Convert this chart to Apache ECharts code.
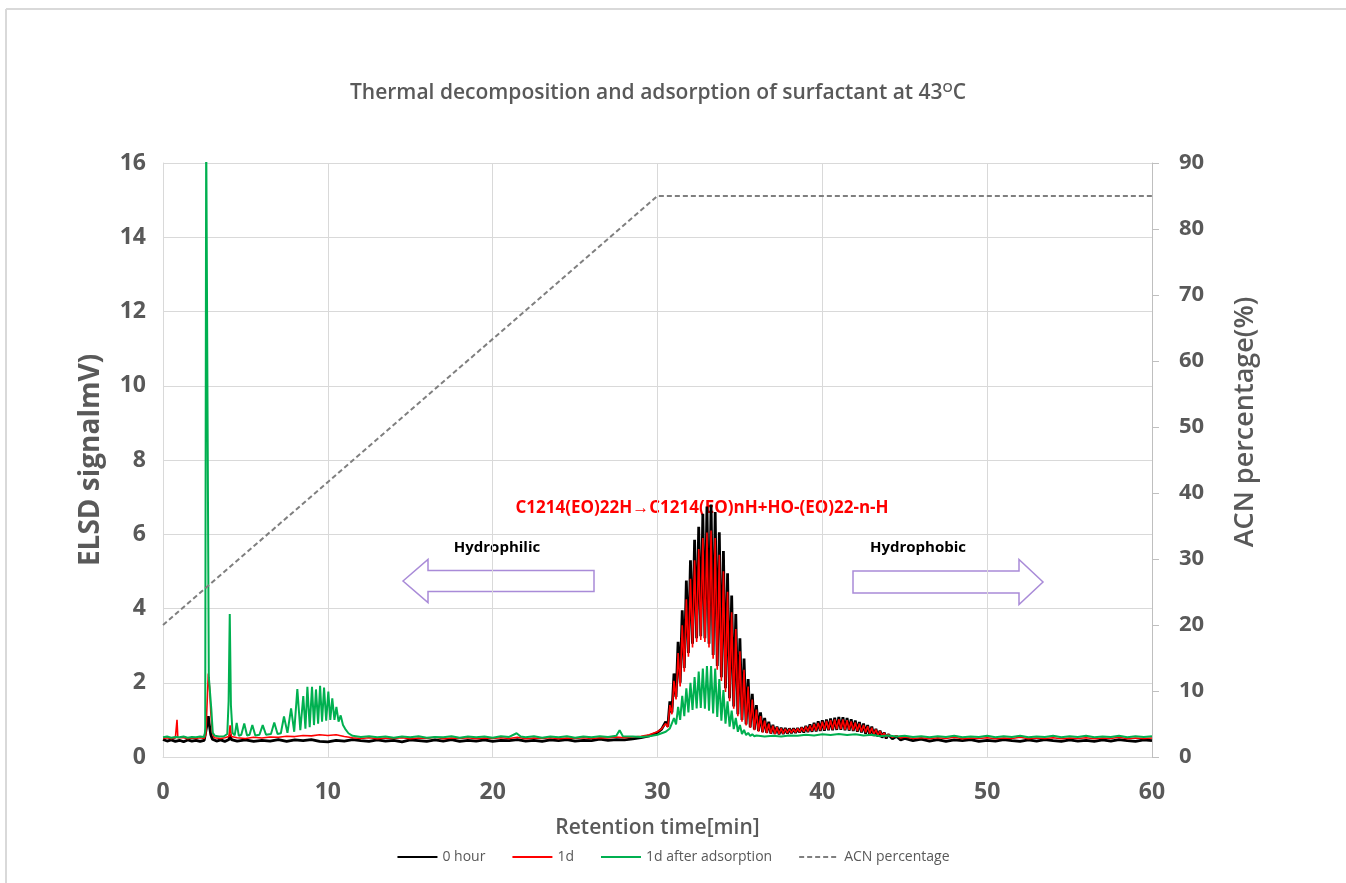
<!DOCTYPE html>
<html>
<head>
<meta charset="utf-8">
<script src="https://cdn.jsdelivr.net/npm/echarts@6/dist/echarts.min.js"></script>
<style>
html,body{margin:0;padding:0;background:#fff;}
#chart{width:1346px;height:883px;}
</style>
</head>
<body>
<div id="chart"></div>
<script>
// ---------- data (retention time [min], ELSD signal [mV]) ----------
const xTicks = [0, 10, 20, 30, 40, 50, 60];
const seriesNames = ['0 hour', '1d', '1d after adsorption', 'ACN percentage'];

const hour0 = [
[0,0.47],[0.25,0.43],[0.5,0.46],[0.75,0.42],[1,0.45],[1.25,0.41],[1.5,0.46],[1.75,0.43],[2,0.45],[2.25,0.42],[2.5,0.45],
[2.6,0.5],[2.7,0.95],[2.75,1.1],[2.8,0.9],[2.9,0.6],[3,0.48],[3.25,0.43],[3.5,0.46],[3.75,0.42],[4,0.47],[4.07,0.6],[4.15,0.47],[4.5,0.43],
[5,0.46],[5.5,0.42],[6,0.45],[6.5,0.43],[7,0.47],[7.5,0.42],[8,0.46],[8.5,0.44],[9,0.47],[9.5,0.42],[10,0.41],[10.5,0.45],[11,0.43],[11.5,0.47],
[12,0.44],[12.5,0.42],[13,0.46],[13.5,0.43],[14,0.45],[14.5,0.41],[15,0.46],[15.5,0.44],[16,0.42],[16.5,0.46],[17,0.43],[17.5,0.47],[18,0.42],
[18.5,0.45],[19,0.43],[19.5,0.46],[20,0.42],[20.5,0.45],[21,0.44],[21.5,0.47],[22,0.43],[22.5,0.45],[23,0.42],[23.5,0.46],[24,0.44],[24.5,0.47],
[25,0.43],[25.5,0.45],[26,0.44],[26.5,0.48],[27,0.45],[27.5,0.47],[28,0.46],[28.5,0.49],[29,0.52],[29.5,0.57],[30,0.66],[30.25,0.75],
[30.5,0.95],[30.625,0.82],[30.75,1.5],[30.875,1.2],[31,2.25],[31.125,1.62],[31.25,3.1],[31.375,2.0],[31.5,3.95],[31.625,2.4],[31.75,4.75],[31.875,2.8],
[32,5.3],[32.125,3.05],[32.25,5.85],[32.375,3.2],[32.5,6.2],[32.625,3.25],[32.75,6.55],[32.875,3.2],[33,6.75],[33.125,3.05],[33.25,6.8],[33.375,2.75],
[33.5,6.6],[33.625,2.45],[33.75,6.05],[33.875,2.15],[34,5.55],[34.125,1.85],[34.25,4.95],[34.375,1.58],[34.5,4.35],[34.625,1.36],[34.75,3.85],[34.875,1.15],
[35,3.2],[35.125,1.0],[35.25,2.65],[35.375,0.88],[35.5,2.1],[35.625,0.8],[35.75,1.7],[35.875,0.74],[36,1.4],[36.125,0.7],[36.25,1.2],[36.375,0.67],
[36.5,1.05],[36.625,0.65],[36.75,0.95],[36.875,0.63],[37,0.87],[37.125,0.62],[37.25,0.82],[37.375,0.61],[37.5,0.79],[37.625,0.62],[37.75,0.78],[37.875,0.63],
[38,0.77],[38.125,0.64],[38.25,0.77],[38.375,0.65],
[38.5,0.78],[38.625,0.66],[38.75,0.8],[38.875,0.66],[39,0.84],[39.125,0.67],[39.25,0.88],[39.375,0.68],[39.5,0.92],[39.625,0.69],[39.75,0.96],[39.875,0.7],
[40,0.99],[40.125,0.71],[40.25,1.01],[40.375,0.72],[40.5,1.04],[40.625,0.72],[40.75,1.06],[40.875,0.73],[41,1.08],[41.125,0.73],[41.25,1.07],[41.375,0.72],
[41.5,1.05],[41.625,0.71],[41.75,1.02],[41.875,0.7],[42,0.98],[42.125,0.68],[42.25,0.94],[42.375,0.66],[42.5,0.9],[42.625,0.63],[42.75,0.86],[42.875,0.6],
[43,0.82],[43.125,0.57],[43.25,0.76],[43.375,0.55],[43.5,0.71],[43.625,0.52],[43.75,0.66],[43.875,0.5],[44,0.61],[44.25,0.49],[44.5,0.56],[44.75,0.46],[45,0.5],
[45.5,0.44],[46,0.48],[46.5,0.43],[47,0.47],[47.5,0.42],[48,0.46],[48.5,0.44],[49,0.47],[49.5,0.42],[50,0.45],[50.5,0.43],[51,0.47],[51.5,0.44],
[52,0.42],[52.5,0.46],[53,0.43],[53.5,0.47],[54,0.44],[54.5,0.42],[55,0.46],[55.5,0.43],[56,0.45],[56.5,0.42],[57,0.46],[57.5,0.43],[58,0.47],
[58.5,0.44],[59,0.42],[59.5,0.46],[60,0.44]
];

const day1 = [
[0,0.5],[0.25,0.52],[0.5,0.49],[0.75,0.51],[0.82,0.55],[0.85,1.0],[0.9,0.52],[1,0.5],[1.25,0.52],[1.5,0.49],[1.75,0.51],[2,0.5],[2.25,0.52],[2.5,0.5],
[2.6,0.6],[2.68,1.5],[2.75,2.25],[2.82,1.9],[2.9,1.2],[3,0.65],[3.1,0.52],[3.5,0.5],[3.75,0.52],[4,0.55],[4.07,0.85],[4.15,0.55],[4.5,0.52],
[5,0.5],[5.5,0.53],[6,0.51],[6.5,0.54],[7,0.53],[7.5,0.56],[8,0.55],[8.5,0.58],[9,0.57],[9.5,0.6],[10,0.58],[10.5,0.6],[11,0.55],[11.5,0.52],
[12,0.5],[12.5,0.52],[13,0.49],[13.5,0.51],[14,0.5],[14.5,0.52],[15,0.49],[15.5,0.51],[16,0.5],[16.5,0.53],[17,0.49],[17.5,0.51],[18,0.5],
[18.5,0.52],[19,0.49],[19.5,0.51],[20,0.5],[20.5,0.52],[21,0.5],[21.5,0.53],[22,0.49],[22.5,0.51],[23,0.5],[23.5,0.52],[24,0.49],[24.5,0.51],
[25,0.5],[25.5,0.52],[26,0.5],[26.5,0.52],[27,0.51],[27.5,0.54],[28,0.52],[28.5,0.54],[29,0.56],[29.5,0.6],[30,0.68],[30.25,0.76],
[30.5,0.9],[30.625,0.8],[30.75,1.4],[30.875,1.15],[31,2.05],[31.125,1.55],[31.25,2.8],[31.375,1.9],[31.5,3.55],[31.625,2.3],[31.75,4.25],[31.875,2.7],
[32,4.8],[32.125,2.95],[32.25,5.3],[32.375,3.1],[32.5,5.6],[32.625,3.15],[32.75,5.9],[32.875,3.1],[33,6.05],[33.125,2.95],[33.25,6.1],[33.375,2.65],
[33.5,5.9],[33.625,2.35],[33.75,5.45],[33.875,2.05],[34,5.0],[34.125,1.75],[34.25,4.45],[34.375,1.5],[34.5,3.9],[34.625,1.3],[34.75,3.45],[34.875,1.1],
[35,2.85],[35.125,0.95],[35.25,2.35],[35.375,0.85],[35.5,1.9],[35.625,0.78],[35.75,1.55],[35.875,0.72],[36,1.28],[36.125,0.68],[36.25,1.1],[36.375,0.66],
[36.5,0.98],[36.625,0.64],[36.75,0.9],[36.875,0.63],[37,0.84],[37.125,0.62],[37.25,0.8],[37.375,0.62],[37.5,0.77],[37.625,0.63],[37.75,0.76],[37.875,0.64],
[38,0.76],[38.125,0.65],[38.25,0.76],[38.375,0.66],
[38.5,0.77],[38.625,0.67],[38.75,0.79],[38.875,0.68],[39,0.82],[39.125,0.69],[39.25,0.85],[39.375,0.7],[39.5,0.89],[39.625,0.71],[39.75,0.92],[39.875,0.72],
[40,0.95],[40.125,0.73],[40.25,0.97],[40.375,0.74],[40.5,0.99],[40.625,0.74],[40.75,1.01],[40.875,0.75],[41,1.02],[41.125,0.75],[41.25,1.01],[41.375,0.74],
[41.5,0.99],[41.625,0.73],[41.75,0.96],[41.875,0.72],[42,0.93],[42.125,0.7],[42.25,0.9],[42.375,0.68],[42.5,0.86],[42.625,0.66],[42.75,0.83],[42.875,0.63],
[43,0.79],[43.125,0.6],[43.25,0.74],[43.375,0.58],[43.5,0.7],[43.625,0.56],[43.75,0.65],[43.875,0.54],[44,0.61],[44.25,0.53],[44.5,0.57],[44.75,0.51],[45,0.54],
[45.5,0.5],[46,0.52],[46.5,0.49],[47,0.52],[47.5,0.5],[48,0.53],[48.5,0.49],[49,0.51],[49.5,0.5],[50,0.52],[50.5,0.49],[51,0.51],[51.5,0.5],
[52,0.53],[52.5,0.49],[53,0.51],[53.5,0.5],[54,0.52],[54.5,0.49],[55,0.51],[55.5,0.5],[56,0.52],[56.5,0.49],[57,0.51],[57.5,0.5],[58,0.53],
[58.5,0.49],[59,0.51],[59.5,0.5],[60,0.51]
];

const day1Ads = [
[0,0.53],[0.25,0.55],[0.5,0.52],[0.75,0.54],[1,0.53],[1.25,0.55],[1.5,0.52],[1.75,0.54],[2,0.53],[2.25,0.55],[2.5,0.54],
[2.56,0.7],[2.62,17],[2.72,17],[2.78,2.15],[2.86,2.1],[2.93,1.3],[3.02,0.65],[3.15,0.57],[3.4,0.55],[3.7,0.56],[3.9,0.62],[3.98,1.5],[4.05,3.85],[4.12,1.4],
[4.22,0.65],[4.35,0.58],[4.47,0.92],[4.6,0.57],[4.75,0.6],[4.93,0.9],[5.1,0.58],[5.25,0.6],[5.42,0.86],[5.6,0.58],[5.85,0.6],[6.05,0.86],[6.25,0.6],
[6.55,0.62],[6.75,0.93],[6.95,0.62],[7.15,0.64],[7.34,1.09],[7.55,0.65],[7.77,1.31],[7.96,0.68],[8.15,1.83],[8.33,0.72],[8.51,1.64],[8.64,0.76],
[8.76,1.89],[8.9,0.8],[9.04,1.89],[9.16,0.86],[9.28,1.82],[9.41,0.9],[9.53,1.92],[9.65,0.95],[9.77,1.87],[9.9,0.98],[10.03,1.76],[10.15,1.0],
[10.27,1.58],[10.4,1.0],[10.52,1.35],[10.65,0.95],[10.78,1.12],[10.92,0.86],[11.05,0.76],[11.25,0.64],[11.5,0.57],
[12,0.54],[12.5,0.56],[13,0.53],[13.5,0.55],[14,0.52],[14.5,0.55],[15,0.53],[15.5,0.56],[16,0.52],[16.5,0.54],[17,0.53],[17.5,0.56],[18,0.52],
[18.5,0.55],[19,0.53],[19.5,0.55],[20,0.52],[20.5,0.56],[21,0.54],[21.45,0.64],[21.7,0.55],[22,0.53],[22.5,0.56],[23,0.52],[23.5,0.55],[24,0.53],
[24.5,0.56],[25,0.52],[25.5,0.55],[26,0.53],[26.5,0.56],[27,0.54],[27.5,0.57],[27.7,0.72],[27.9,0.56],[28.5,0.55],[29,0.54],[29.5,0.56],[30,0.6],
[30.5,0.68],[30.75,0.77],
[31,1.05],[31.125,0.88],[31.25,1.35],[31.375,1.0],[31.5,1.65],[31.625,1.1],[31.75,1.85],[31.875,1.2],[32,2.0],[32.125,1.27],[32.25,2.15],[32.375,1.31],
[32.5,2.3],[32.625,1.32],[32.75,2.38],[32.875,1.3],[33,2.45],[33.125,1.25],[33.25,2.45],[33.375,1.17],[33.5,2.38],[33.625,1.08],[33.75,2.1],[33.875,0.98],
[34,1.8],[34.125,0.9],[34.25,1.5],[34.375,0.82],[34.5,1.25],[34.625,0.75],[34.75,1.05],[34.875,0.68],[35,0.86],[35.125,0.62],[35.25,0.73],[35.375,0.59],
[35.5,0.65],[35.625,0.57],[35.75,0.61],[35.875,0.56],[36,0.58],
[36.5,0.55],[37,0.57],[37.5,0.55],[38,0.58],[38.5,0.57],[39,0.6],[39.5,0.58],[40,0.61],[40.5,0.59],[41,0.62],[41.5,0.59],[42,0.61],[42.5,0.58],
[43,0.6],[43.5,0.56],[44,0.58],[44.5,0.55],[45,0.57],[45.5,0.54],[46,0.56],[46.5,0.53],[47,0.56],[47.5,0.54],[48,0.57],[48.5,0.53],[49,0.55],
[49.5,0.54],[50,0.57],[50.5,0.53],[51,0.56],[51.5,0.54],[52,0.57],[52.5,0.53],[53,0.55],[53.5,0.54],[54,0.57],[54.5,0.53],[55,0.56],[55.5,0.54],
[56,0.57],[56.5,0.53],[57,0.55],[57.5,0.54],[58,0.57],[58.5,0.53],[59,0.56],[59.5,0.54],[60,0.56]
];

const acnTime = [0, 30, 60];
const acnPercent = [20, 85, 85];

// ---------- chart ----------
const chart = echarts.init(document.getElementById('chart'));
const FONT = '"Open Sans", "Noto Sans", sans-serif';
const GRAY = '#595959';

function arrowLeft(x0, x1, yc, hb, hh, headLen) {
  return [[x0, yc], [x0 + headLen, yc - hh], [x0 + headLen, yc - hb], [x1, yc - hb],
          [x1, yc + hb], [x0 + headLen, yc + hb], [x0 + headLen, yc + hh]];
}
function arrowRight(x0, x1, yc, hb, hh, headLen) {
  return [[x0, yc - hb], [x1 - headLen, yc - hb], [x1 - headLen, yc - hh], [x1, yc],
          [x1 - headLen, yc + hh], [x1 - headLen, yc + hb], [x0, yc + hb]];
}

const option = {
  backgroundColor: '#fff',
  animation: false,
  title: {
    text: '{a|Thermal decomposition and adsorption of surfactant at 43}{s|O}{a|C}',
    left: 345,
    top: 77,
    textStyle: {
      rich: {
        a: { fontFamily: FONT, fontSize: 21, fontWeight: 600, color: GRAY },
        s: { fontFamily: FONT, fontSize: 13, fontWeight: 600, color: GRAY, verticalAlign: 'top', padding: [0, 0, 10, 0] }
      }
    }
  },
  legend: {
    data: seriesNames,
    bottom: 14,
    left: 'center',
    itemWidth: 40,
    itemHeight: 10,
    itemGap: 26,
    itemStyle: { opacity: 0 },
    textStyle: { fontFamily: FONT, fontSize: 14, color: GRAY }
  },
  grid: { left: 163, right: 194, top: 163, bottom: 126, containLabel: false },
  xAxis: {
    type: 'value',
    min: 0, max: 60, interval: 10,
    name: 'Retention time[min]',
    nameLocation: 'middle',
    nameGap: 61,
    nameTextStyle: { fontFamily: FONT, fontSize: 21, fontWeight: 600, color: GRAY },
    axisLine: { show: true, lineStyle: { color: '#d9d9d9', width: 1 } },
    axisTick: { show: false },
    axisLabel: { fontFamily: FONT, fontSize: 23, fontWeight: 'bold', color: GRAY, margin: 24,
      formatter: v => xTicks.indexOf(v) >= 0 ? String(v) : '' },
    splitLine: { show: true, lineStyle: { color: '#d9d9d9', width: 1 } }
  },
  yAxis: [
    {
      type: 'value', min: 0, max: 16, interval: 2,
      name: 'ELSD signalmV)',
      nameLocation: 'middle',
      nameGap: 58,
      nameTextStyle: { fontFamily: FONT, fontSize: 28, fontWeight: 'bold', color: GRAY },
      axisLine: { show: true, lineStyle: { color: '#d9d9d9' } },
      axisTick: { show: false },
      axisLabel: { fontFamily: FONT, fontSize: 23, fontWeight: 'bold', color: GRAY, margin: 17 },
      splitLine: { show: true, lineStyle: { color: '#d9d9d9', width: 1 } }
    },
    {
      type: 'value', min: 0, max: 90, interval: 10,
      position: 'right',
      axisLine: { show: true, lineStyle: { color: '#bfbfbf' } },
      axisTick: { show: true, inside: false, length: 7, lineStyle: { color: '#bfbfbf' } },
      axisLabel: { fontFamily: FONT, fontSize: 22, fontWeight: 'bold', color: GRAY, margin: 27 },
      splitLine: { show: false }
    }
  ],
  series: [
    { name: seriesNames[0], type: 'line', data: hour0, symbol: 'none', clip: true,
      lineStyle: { color: '#000000', width: 2.8 }, itemStyle: { color: '#000000' }, z: 2 },
    { name: seriesNames[1], type: 'line', data: day1, symbol: 'none', clip: true,
      lineStyle: { color: '#ff0000', width: 1.6 }, itemStyle: { color: '#ff0000' }, z: 3 },
    { name: seriesNames[2], type: 'line', data: day1Ads, symbol: 'none', clip: true,
      lineStyle: { color: '#00b050', width: 2 }, itemStyle: { color: '#00b050' }, z: 4 },
    { name: seriesNames[3], type: 'line', yAxisIndex: 1, symbol: 'none', clip: true,
      data: acnTime.map((t, i) => [t, acnPercent[i]]),
      lineStyle: { color: '#7f7f7f', width: 2, type: [5, 3] }, itemStyle: { color: '#7f7f7f' }, z: 5 }
  ],
  graphic: [
    { type: 'line', shape: { x1: 6, y1: 9, x2: 1346, y2: 9 }, style: { stroke: '#d9d9d9', lineWidth: 2 } },
    { type: 'line', shape: { x1: 6, y1: 9, x2: 6, y2: 883 }, style: { stroke: '#d9d9d9', lineWidth: 2 } },
    { type: 'text', x: 1245, y: 422, rotation: Math.PI / 2,
      style: { text: 'ACN percentage(%)', fontFamily: FONT, fontSize: 27, fontWeight: 600, fill: GRAY,
        align: 'center', verticalAlign: 'middle' } },
    { type: 'text', x: 702, y: 508,
      style: { text: 'C1214(EO)22H\u2192C1214(EO)nH+HO-(EO)22-n-H', fontFamily: FONT, fontSize: 17, fontWeight: 'bold',
        fill: '#ff0000', align: 'center', verticalAlign: 'middle' } },
    { type: 'text', x: 497, y: 548,
      style: { text: 'Hydrophilic', fontFamily: FONT, fontSize: 15, fontWeight: 'bold', fill: '#000',
        align: 'center', verticalAlign: 'middle' } },
    { type: 'text', x: 918, y: 548,
      style: { text: 'Hydrophobic', fontFamily: FONT, fontSize: 15, fontWeight: 'bold', fill: '#000',
        align: 'center', verticalAlign: 'middle' } },
    { type: 'polygon', shape: { points: arrowLeft(403, 594, 581, 10.5, 21.5, 25) },
      style: { fill: '#fff', stroke: '#a98bd8', lineWidth: 1.5 } },
    { type: 'polygon', shape: { points: arrowRight(853, 1043, 582, 11, 22.5, 24) },
      style: { fill: '#fff', stroke: '#a98bd8', lineWidth: 1.5 } }
  ]
};
chart.setOption(option);
</script>
</body>
</html>
